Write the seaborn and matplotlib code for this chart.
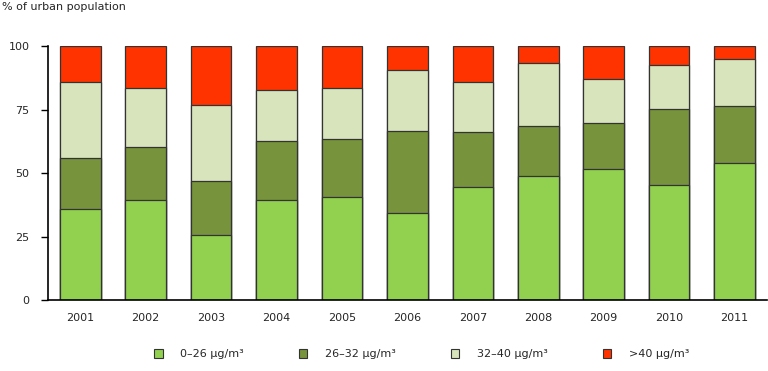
import pandas as pd
import numpy as np
import matplotlib
matplotlib.use("Agg")
import matplotlib.pyplot as plt
import seaborn as sns
from matplotlib.patches import Patch

# Data
years = ["2001", "2002", "2003", "2004", "2005", "2006", "2007", "2008", "2009", "2010", "2011"]
band_0_26 = [35.8, 39.5, 25.7, 39.5, 40.7, 34.3, 44.7, 48.9, 51.7, 45.3, 54.1]
band_26_32 = [20.3, 20.9, 21.3, 23.3, 22.7, 32.4, 21.4, 19.8, 18.0, 29.8, 22.2]
band_32_40 = [29.8, 22.9, 29.8, 19.8, 20.2, 23.8, 19.8, 24.5, 17.3, 17.5, 18.7]
band_over_40 = [14.1, 16.7, 23.2, 17.4, 16.4, 9.5, 14.1, 6.8, 13.0, 7.4, 5.0]

labels = ["0\u201326 \u00b5g/m\u00b3", "26\u201332 \u00b5g/m\u00b3", "32\u201340 \u00b5g/m\u00b3", ">40 \u00b5g/m\u00b3"]
colors = ["#92D050", "#77933C", "#D8E4BC", "#FF3300"]

df = pd.DataFrame({
    "year": years,
    "b1": band_0_26,
    "b2": band_26_32,
    "b3": band_32_40,
    "b4": band_over_40,
})
# cumulative tops for stacking
df["c1"] = df["b1"]
df["c2"] = df["c1"] + df["b2"]
df["c3"] = df["c2"] + df["b3"]
df["c4"] = df["c3"] + df["b4"]

sns.set_style("white")
plt.rcParams["font.family"] = ["DejaVu Sans"]

fig = plt.figure(figsize=(7.68, 3.71), dpi=100)
ax = fig.add_axes([0.062, 0.191, 0.937, 0.685])

# draw tallest first so shorter stacks sit on top
for col, color in zip(["c4", "c3", "c2", "c1"], colors[::-1]):
    sns.barplot(data=df, x="year", y=col, color=color, width=0.62,
                edgecolor="#333333", linewidth=0.9, saturation=1, ax=ax)

ax.set_ylim(0, 100)
ax.set_xlim(-0.5, len(years) - 0.5)
ax.set_yticks([0, 25, 50, 75, 100])
ax.set_xlabel("")
ax.set_ylabel("")

ax.set_xticks(np.arange(-0.5, len(years), 1), minor=True)
ax.tick_params(axis="x", which="major", length=0, pad=9, labelsize=8)
ax.tick_params(axis="x", which="minor", length=5, width=1, color="black", direction="out")
ax.tick_params(axis="y", length=5, width=1, color="black", direction="out", labelsize=8, pad=8)
ax.tick_params(bottom=True, left=True)

for s in ["top", "right"]:
    ax.spines[s].set_visible(False)
for s in ["left", "bottom"]:
    ax.spines[s].set_color("black")
    ax.spines[s].set_linewidth(1.2)

fig.text(0.002, 0.982, "% of urban population", fontsize=8, ha="left", va="center")

handles = [Patch(facecolor=c, edgecolor="#333333", linewidth=0.8) for c in colors]
fig.legend(handles, labels, loc="center", bbox_to_anchor=(0.549, 0.045), ncol=4,
           frameon=False, fontsize=8, handlelength=0.8, handleheight=0.8,
           handletextpad=1.6, columnspacing=4.9)

plt.savefig("out.png", dpi=100)
plt.close()
